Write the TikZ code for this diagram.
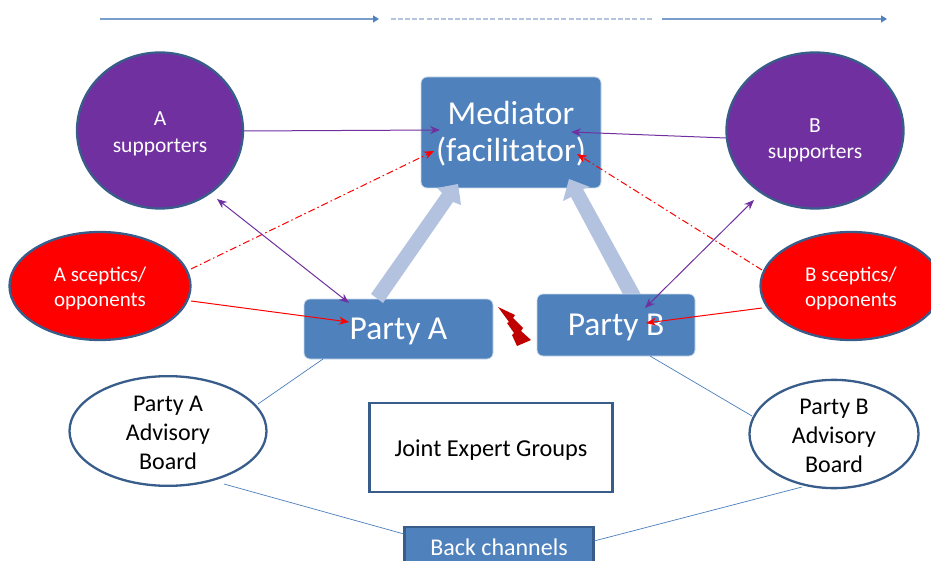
\documentclass[tikz,border=0pt]{standalone}
\usepackage{fontspec}
\setmainfont{Carlito}
\usetikzlibrary{arrows.meta,shapes.geometric,calc}
\definecolor{fillblue}{HTML}{4F81BD}
\definecolor{darkblue}{HTML}{385D8A}
\definecolor{lineblue}{HTML}{4A7EBB}
\definecolor{paleblue}{HTML}{B3C3DF}
\definecolor{purplefill}{HTML}{7030A0}
\definecolor{darkred}{HTML}{C00000}
\newcommand{\dropby}[1]{\rule{0pt}{\dimexpr\fontcharht\font`A+#1*2\relax}}
\tikzset{
  x=1pt,y=-1pt,
  oval/.style={ellipse,draw=darkblue,line width=2.3pt,inner sep=0pt,align=center},
  purpleoval/.style={oval,fill=purplefill,text=white,font=\fontsize{21.5}{27}\selectfont},
  redoval/.style={oval,fill=red,text=white,font=\fontsize{21}{25}\selectfont},
  whiteoval/.style={oval,fill=white,text=black,font=\fontsize{24}{29}\selectfont},
  softbox/.style={rectangle,rounded corners=6pt,fill=fillblue,draw=white!70!fillblue,line width=.8pt,text=white,inner sep=0pt,align=center},
  bigtext/.style={font=\fontsize{33.5}{37}\selectfont},
  plainline/.style={draw=lineblue,line width=.7pt},
  timeline/.style={draw=lineblue!75!white,line width=1.2pt},
  timehead/.style={-{Triangle[length=6pt,width=7pt,fill=fillblue,color=fillblue]}},
  purplearrow/.style={draw=purplefill,line width=1pt,-{Stealth[length=10pt,width=8pt]}},
  purpledouble/.style={draw=purplefill,line width=1pt,{Stealth[length=10pt,width=8pt]}-{Stealth[length=10pt,width=8pt]}},
  redarrow/.style={draw=red,line width=1pt,-{Stealth[length=10pt,width=8pt]}},
  reddash/.style={redarrow,dash pattern=on 7pt off 3pt on 1.5pt off 3pt},
  bigarrow/.style={fill=paleblue,draw=none},
}
\begin{document}
\begin{tikzpicture}
\useasboundingbox (0,0) rectangle (931,561);
\clip (0,0) rectangle (931,561);

% top timeline
\coordinate (t1a) at (100,19); \coordinate (t1b) at (379,19);
\coordinate (t2a) at (391,19); \coordinate (t2b) at (653,19);
\coordinate (t3a) at (662,19); \coordinate (t3b) at (887,19);
\draw[timeline,timehead] (t1a) -- (t1b);
\draw[draw=paleblue,line width=1.3pt,dash pattern=on 5pt off 2.1pt] (t2a) -- (t2b);
\draw[timeline,timehead] (t3a) -- (t3b);

% boxes
\node[softbox,bigtext,minimum width=180pt,minimum height=111pt] (med) at (511,132.5) {\dropby{2.5pt}Mediator\\(facilitator)};
\node[softbox,bigtext,minimum width=189pt,minimum height=60pt] (pa) at (398.5,329) {\dropby{2pt}Party A};

% big arrows
\fill[bigarrow] (371,294) -- (442,193) -- (437,188) -- (458,184) -- (461,205) -- (453,202) -- (383,303) -- cycle;
\fill[bigarrow] (626,300) -- (571,197) -- (563,201) -- (569,179) -- (590,187) -- (583,189) -- (644,300) -- cycle;

\node[softbox,bigtext,minimum width=158pt,minimum height=62pt] (pb) at (616,325) {\dropby{2pt}Party B};
\node[rectangle,draw=darkblue,line width=2.1pt,fill=white,minimum width=243pt,minimum height=89pt,inner sep=0pt,font=\fontsize{24.3}{29}\selectfont] (jeg) at (491,447.5) {\dropby{3pt}Joint Expert Groups};
\node[rectangle,draw=darkblue,line width=2.1pt,fill=fillblue,minimum width=189pt,minimum height=50pt,inner sep=0pt] (back) at (499,552) {};
\node[text=white,font=\fontsize{24}{29}\selectfont,inner sep=0pt] (backlabel) at (499,547) {Back channels};

% ellipses
\node[purpleoval,minimum width=166pt,minimum height=156pt] (as) at (160,130.5) {\dropby{3pt}A\\supporters};
\node[purpleoval,minimum width=177pt,minimum height=156pt,font=\fontsize{21.5}{26}\selectfont] (bs) at (815,130.5) {\dropby{10pt}B\\supporters};
\node[redoval,minimum width=181pt,minimum height=108pt] (ao) at (100,286) {\dropby{3pt}A sceptics/\\opponents};
\node[redoval,minimum width=181pt,minimum height=108pt] (bo) at (851,286) {\dropby{3pt}B sceptics/\\opponents};
\node[whiteoval,minimum width=197pt,minimum height=104pt] (aab) at (168,431) {\dropby{2pt}Party A\\Advisory\\Board};
\node[whiteoval,minimum width=169pt,minimum height=104pt] (bab) at (834,434) {\dropby{1.5pt}Party B\\Advisory\\Board};

% connectors
\coordinate (medL1) at (440,130); \coordinate (medR1) at (571,132);
\coordinate (medL2) at (434,151); \coordinate (medR2) at (577,154);
\coordinate (paT) at (349,303); \coordinate (paI) at (349,322);
\coordinate (pbT) at (645,308); \coordinate (pbI) at (646,323);
\coordinate (asE) at (217,199); \coordinate (bsE) at (754,200);
\coordinate (asR) at (243,131); \coordinate (bsL) at (726,138);
\coordinate (aoA) at (191,269); \coordinate (boA) at (762,270);
\coordinate (aoB) at (191,301); \coordinate (boB) at (762,308);

\draw[purplearrow] (asR) -- (medL1);
\draw[purplearrow] (bsL) -- (medR1);
\draw[reddash] (aoA) -- (medL2);
\draw[reddash] (boA) -- (medR2);
\draw[purpledouble] (asE) -- (paT);
\draw[purpledouble] (bsE) -- (pbT);
\draw[redarrow] (aoB) -- (paI);
\draw[redarrow] (boB) -- (pbI);

% thin lines
\coordinate (paL) at (323,359); \coordinate (aabT) at (258,404);
\coordinate (pbL) at (650,356); \coordinate (babT) at (752,416);
\coordinate (aabB) at (224,484); \coordinate (backL) at (404,534);
\coordinate (babB) at (802,487); \coordinate (backR) at (594,541);
\draw[plainline] (paL) -- (aabT);
\draw[plainline] (pbL) -- (babT);
\draw[plainline] (aabB) -- (backL);
\draw[plainline] (babB) -- (backR);

% lightning
\fill[darkred] (498,307) -- (515,315) -- (513,318) -- (523,328) -- (521,331) -- (531,340) -- (517,346) -- (512,335) -- (514,333) -- (507,323) -- (509,322) -- cycle;
\end{tikzpicture}
\end{document}
